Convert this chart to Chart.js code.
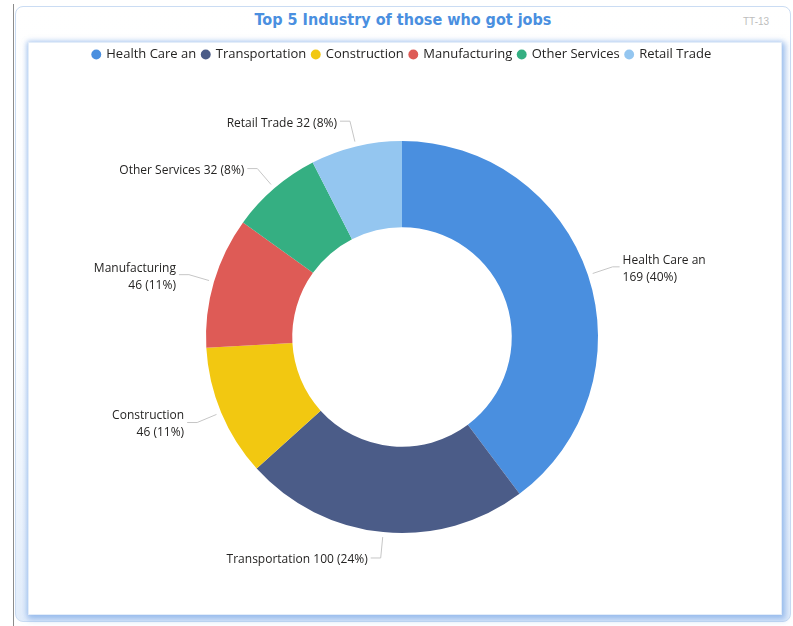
<!DOCTYPE html>
<html>
<head>
<meta charset="utf-8">
<script src="https://cdn.jsdelivr.net/npm/chart.js@4.4.1/dist/chart.umd.min.js"></script>
<style>
  body { margin: 0; background: #fff; width: 793px; height: 626px; overflow: hidden; position: relative; font-family: "Open Sans", sans-serif; }
  #leftline { position: absolute; left: 13px; top: 4px; width: 1px; height: 622px; background: #8c8c8c; }
  #panel { position: absolute; left: 15px; top: 6px; width: 774px; height: 614px; border: 1px solid #cadcf3; border-radius: 8px;
           background: linear-gradient(#ffffff 0%, #fbfdff 55%, #e2edfb 100%); }
  #title { position: absolute; left: 15px; width: 776px; top: 10px; text-align: center; color: #4a8fe0;
           font: bold 16px "DejaVu Sans Condensed", "DejaVu Sans", sans-serif; }
  #tag { position: absolute; left: 743px; top: 16px; color: #bdbdbd; font: 10px "Liberation Sans Narrow", "Liberation Sans", sans-serif; }
  #inner { position: absolute; left: 28px; top: 42px; width: 754px; height: 573px; background: #fff;
           border: 1px solid #e3edf9; box-sizing: border-box;
           box-shadow: 2px 3px 6px 2px rgba(120, 165, 230, 0.55), 0 0 5px 1px rgba(120, 165, 230, 0.4); }
  #wrap { position: absolute; left: 1px; top: -1px; width: 752px; height: 573px; }
</style>
</head>
<body>
<div id="leftline"></div>
<div id="panel"></div>
<div id="title">Top 5 Industry of those who got jobs</div>
<div id="tag">TT-13</div>
<div id="inner"><div id="wrap"><canvas id="industryChart"></canvas></div></div>
<script>
  // Top 5 industries (plus retail) of those who got jobs
  const categories = ['Health Care an', 'Transportation', 'Construction', 'Manufacturing', 'Other Services', 'Retail Trade'];
  const values = [169, 100, 46, 46, 32, 32];
  const colors = ['#4a8fdf', '#4b5c88', '#f2c811', '#de5b56', '#35af82', '#94c6f0'];

  // draws the labels outside the ring with small leader lines
  const outLabels = {
    id: 'outLabels',
    afterDatasetsDraw(chart) {
      const ctx = chart.ctx;
      const meta = chart.getDatasetMeta(0);
      const total = values.reduce((a, b) => a + b, 0);
      ctx.save();
      ctx.font = '12px "Open Sans", sans-serif';
      ctx.fillStyle = '#252423';
      ctx.strokeStyle = '#c6c6c6';
      ctx.lineWidth = 1;
      meta.data.forEach((arc, i) => {
        const p = arc.getProps(['x', 'y', 'startAngle', 'endAngle', 'outerRadius'], true);
        const mid = (p.startAngle + p.endAngle) / 2;
        const cos = Math.cos(mid), sin = Math.sin(mid);
        const x1 = p.x + cos * (p.outerRadius + 5), y1 = p.y + sin * (p.outerRadius + 5);
        const x2 = p.x + cos * (p.outerRadius + 26), y2 = p.y + sin * (p.outerRadius + 26);
        const right = cos >= 0;
        const x3 = x2 + (right ? 7 : -10);
        ctx.beginPath();
        ctx.moveTo(x1, y1);
        ctx.lineTo(x2, y2);
        ctx.lineTo(x3, y2);
        ctx.stroke();

        const pct = Math.round(values[i] / total * 100);
        const tail = values[i] + ' (' + pct + '%)';
        const lines = Math.abs(sin) < 0.6 ? [categories[i], tail] : [categories[i] + ' ' + tail];
        ctx.textAlign = right ? 'left' : 'right';
        ctx.textBaseline = 'middle';
        const tx = x3 + (right ? 3 : -3);
        lines.forEach((t, k) => {
          ctx.fillText(t, tx, y2 + 2 + (k - (lines.length - 1) / 2) * 17);
        });
      });
      ctx.restore();
    }
  };

  const config = {
    type: 'doughnut',
    data: {
      labels: categories,
      datasets: [{
        data: values,
        backgroundColor: colors,
        borderWidth: 0,
        radius: 196,
        cutout: '56%'
      }]
    },
    options: {
      responsive: true,
      maintainAspectRatio: false,
      animation: false,
      layout: { padding: { left: 0, right: 8, top: 0, bottom: 12 } },
      plugins: {
        legend: {
          position: 'top',
          labels: {
            usePointStyle: true,
            pointStyle: 'circle',
            boxWidth: 7,
            boxHeight: 7,
            padding: 6,
            color: '#252423',
            font: { family: '"Open Sans", sans-serif', size: 13 }
          }
        },
        tooltip: { enabled: false }
      }
    },
    plugins: [outLabels]
  };

  try {
    const ctx = document.getElementById('industryChart').getContext('2d');
    new Chart(ctx, config);
  } catch (error) {
    console.error('Error rendering the chart:', error);
  }
</script>
</body>
</html>
